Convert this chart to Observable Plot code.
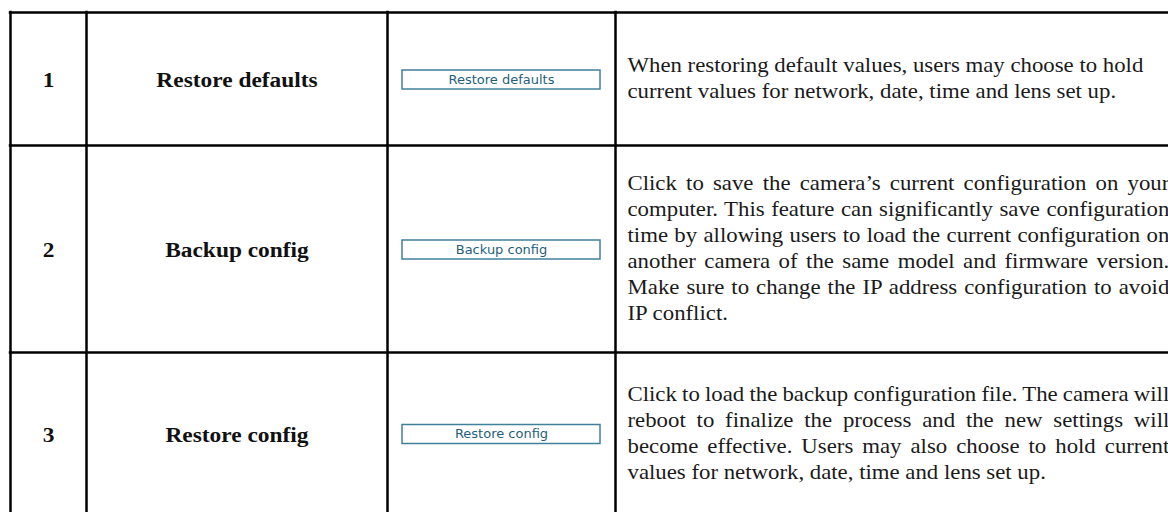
<!DOCTYPE html>
<html>
<head>
<meta charset="utf-8">
<script src="https://cdn.jsdelivr.net/npm/d3@7"></script>
<script src="https://cdn.jsdelivr.net/npm/@observablehq/plot@0.6"></script>
<style>
  html, body { margin: 0; padding: 0; background: #fff; }
  #chart svg { display: block; }
</style>
</head>
<body>
<div id="chart"></div>
<script>
// ---- data ----
const rowNumbers = ["1", "2", "3"];
const itemNames = ["Restore defaults", "Backup config", "Restore config"];
const buttonLabels = ["Restore defaults", "Backup config", "Restore config"];
const descriptionLines = [
  [
    "When restoring default values, users may choose to hold",
    "current values for network, date, time and lens set up."
  ],
  [
    "Click to save the camera\u2019s current configuration on your",
    "computer. This feature can significantly save configuration",
    "time by allowing users to load the current configuration on",
    "another camera of the same model and firmware version.",
    "Make sure to change the IP address configuration to avoid",
    "IP conflict."
  ],
  [
    "Click to load the backup configuration file. The camera will",
    "reboot to finalize the process and the new settings will",
    "become effective. Users may also choose to hold current",
    "values for network, date, time and lens set up."
  ]
];
const justifiedRows = [false, true, true];

// ---- layout (table geometry) ----
const layout = {
  width: 1168,
  height: 512,
  colEdges: [10, 86, 387, 615],
  rowEdges: [12, 145, 352, 514],
  rightEdge: 1190,
  lineHeight: 26,
  descPad: 12,
  justifyRight: 1169,
  buttonLeft: 402,
  buttonRight: 600,
  buttonHeight: 19,
  serifStretch: 1.14,
  boldStretch: 1.17
};

const rows = rowNumbers.map((n, i) => ({
  number: n,
  name: itemNames[i],
  button: buttonLabels[i],
  top: layout.rowEdges[i],
  bottom: layout.rowEdges[i + 1],
  cy: (layout.rowEdges[i] + layout.rowEdges[i + 1]) / 2
}));

const lines = rows.flatMap((r, i) => {
  const ls = descriptionLines[i];
  return ls.map((t, j) => ({
    text: t,
    y: r.cy + (j - (ls.length - 1) / 2) * layout.lineHeight,
    justify: justifiedRows[i] && j < ls.length - 1
  }));
});

const c = layout.colEdges;
const numX = (c[0] + c[1]) / 2;
const nameX = (c[1] + c[2]) / 2;
const buttonX = (layout.buttonLeft + layout.buttonRight) / 2;
const descX = c[3] + layout.descPad;

const serif = "'Liberation Serif', 'Times New Roman', serif";
const sans = "'DejaVu Sans', Verdana, sans-serif";

const plot = Plot.plot({
  width: layout.width,
  height: layout.height,
  margin: 0,
  x: {type: "identity", axis: null},
  y: {type: "identity", axis: null},
  style: {background: "#fff"},
  marks: [
    // horizontal table lines
    Plot.ruleY(layout.rowEdges, {y: d => d, x1: c[0] - 1.25, x2: layout.rightEdge, stroke: "#000", strokeWidth: 2.5}),
    // vertical table lines
    Plot.ruleX(layout.colEdges, {x: d => d, y1: layout.rowEdges[0] - 1.25, y2: layout.rowEdges[3] + 10, stroke: "#000", strokeWidth: 2.5}),
    // buttons
    Plot.rect(rows, {
      x1: layout.buttonLeft, x2: layout.buttonRight,
      y1: d => d.cy - layout.buttonHeight / 2 + 1,
      y2: d => d.cy + layout.buttonHeight / 2 + 1,
      fill: "#fff", stroke: "#41809a", strokeWidth: 1.5
    }),
    Plot.text(rows, {
      x: buttonX, y: d => d.cy + 0.5, text: "button",
      fontFamily: sans, fontSize: 13, fill: "#1f5f7b", textAnchor: "middle"
    }),
    // numbers
    Plot.text(rows, {
      x: numX, y: d => d.cy + 2, text: "number", ariaDescription: "bold",
      fontFamily: serif, fontSize: 20, fontWeight: "bold", fill: "#111", textAnchor: "middle"
    }),
    // names
    Plot.text(rows, {
      x: nameX, y: d => d.cy + 2, text: "name", ariaDescription: "bold",
      fontFamily: serif, fontSize: 20, fontWeight: "bold", fill: "#111", textAnchor: "middle"
    }),
    // descriptions
    Plot.text(lines.filter(d => !d.justify), {
      x: descX, y: "y", text: "text", ariaDescription: "desc",
      fontFamily: serif, fontSize: 20, fill: "#1a1a1a", textAnchor: "start"
    }),
    Plot.text(lines.filter(d => d.justify), {
      x: descX, y: "y", text: "text", ariaDescription: "desc-justify",
      fontFamily: serif, fontSize: 20, fill: "#1a1a1a", textAnchor: "start"
    })
  ]
});

document.getElementById("chart").append(plot);

// horizontal stretch to mimic a wider Garamond-style face, plus justification
function stretch(el, k, target) {
  const L = el.getComputedTextLength();
  if (target) {
    const spaces = (el.textContent.match(/ /g) || []).length;
    if (spaces) el.style.wordSpacing = ((target / k - L) / spaces) + "px";
  }
  const t = el.getAttribute("transform");
  if (t) {
    el.setAttribute("transform", t + ` scale(${k},1)`);
  } else {
    const x = +el.getAttribute("x") || 0, y = +el.getAttribute("y") || 0;
    el.removeAttribute("x"); el.removeAttribute("y");
    el.setAttribute("transform", `translate(${x},${y}) scale(${k},1)`);
  }
}
const svg = d3.select(plot);
svg.selectAll('g[aria-description="bold"] text').each(function() { stretch(this, layout.boldStretch); });
svg.selectAll('g[aria-description="desc"] text').each(function() { stretch(this, layout.serifStretch); });
svg.selectAll('g[aria-description="desc-justify"] text').each(function() {
  stretch(this, layout.serifStretch, layout.justifyRight - descX);
});
</script>
</body>
</html>
